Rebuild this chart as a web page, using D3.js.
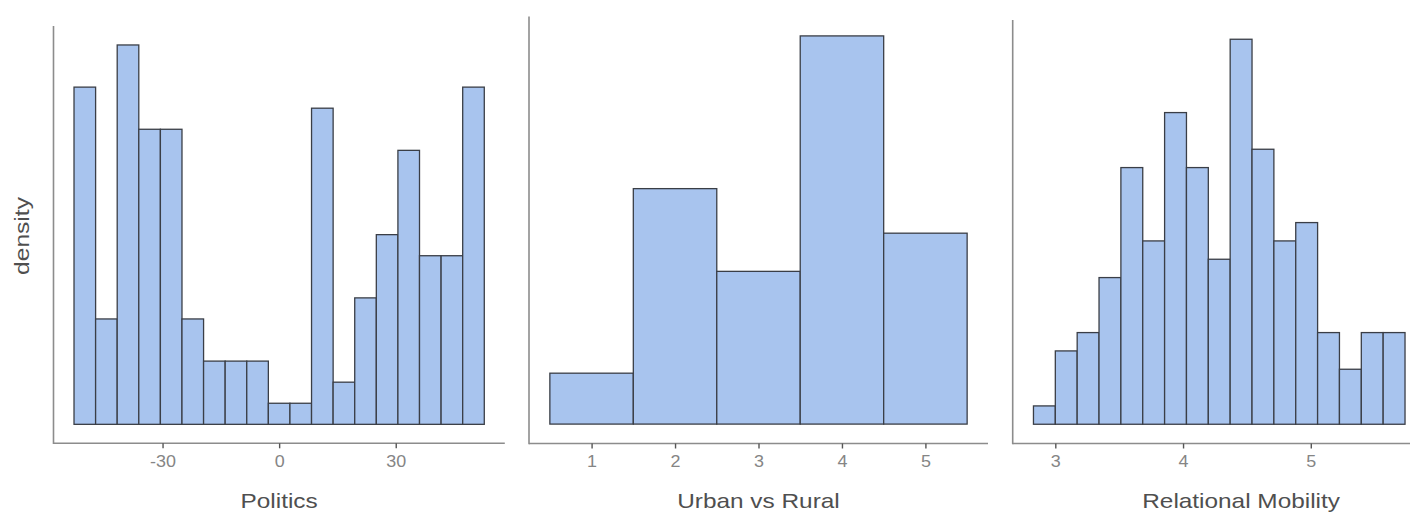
<!DOCTYPE html>
<html>
<head>
<meta charset="utf-8">
<script src="https://cdn.jsdelivr.net/npm/d3@7"></script>
<style>
  html, body { margin: 0; padding: 0; background: #fff; }
  svg { display: block; font-family: "Liberation Sans", Arial, sans-serif; }
</style>
</head>
<body>
<svg id="chart" width="1410" height="514"></svg>
<script>
// Histogram counts per bin (same sample of respondents in every panel)
const politicsCounts = [16, 5, 18, 14, 14, 5, 3, 3, 3, 1, 1, 15, 2, 6, 9, 13, 8, 8, 16];
const politicsBinStart = -52.78;
const politicsBinWidth = 5.556;
const politicsTicks = [-30, 0, 30];

const urbanCounts = [8, 37, 24, 61, 30];
const urbanBinStart = 0.5;
const urbanBinWidth = 1;
const urbanTicks = [1, 2, 3, 4, 5];

const mobilityCounts = [1, 4, 5, 8, 14, 10, 17, 14, 9, 21, 15, 10, 11, 5, 3, 5, 5, 0, 3];
const mobilityBinStart = 2.829;
const mobilityBinWidth = 0.1711;
const mobilityTicks = [3, 4, 5];

const panelTitles = ["Politics", "Urban vs Rural", "Relational Mobility"];

const svg = d3.select("#chart");
const FILL = "#a8c4ee", EDGE = "#3a3e46", AXIS = "#8c8c8c";
const TITLE_COL = "#4f4f4f", TICK_COL = "#858585";

// Widen glyphs a little, like the original renderer's text
function stretch(sel, k) {
  sel.each(function () {
    const w = this.getComputedTextLength();
    d3.select(this).attr("textLength", w * k).attr("lengthAdjust", "spacingAndGlyphs");
  });
}

function histogram(cfg) {
  const n = d3.sum(cfg.counts);
  const bins = cfg.counts.map((c, i) => ({
    x0: cfg.start + i * cfg.width,
    x1: cfg.start + (i + 1) * cfg.width,
    density: c / (n * cfg.width)
  }));
  const lo = bins[0].x0, hi = bins[bins.length - 1].x1;
  const xpad = 0.05 * (hi - lo);
  const x = d3.scaleLinear().domain([lo - xpad, hi + xpad]).range([cfg.left, cfg.right]);
  const dmax = d3.max(bins, d => d.density);
  const y = d3.scaleLinear().domain([-0.05 * dmax, 1.05 * dmax]).range([cfg.bottom, cfg.top]);

  const g = svg.append("g");

  g.selectAll("rect.bar").data(bins).join("rect")
    .attr("class", "bar")
    .attr("x", d => x(d.x0))
    .attr("width", d => x(d.x1) - x(d.x0))
    .attr("y", d => y(d.density))
    .attr("height", d => y(0) - y(d.density))
    .attr("fill", FILL)
    .attr("stroke", EDGE)
    .attr("stroke-width", 1.3);

  // x axis (plain hyphen for negatives)
  const xAxis = d3.axisBottom(x).tickValues(cfg.ticks).tickSize(5).tickPadding(7).tickFormat(d => String(d));
  const ax = g.append("g").attr("transform", `translate(0,${cfg.bottom})`).call(xAxis);
  ax.select(".domain").attr("stroke", AXIS).attr("stroke-width", 1.6)
    .attr("d", `M${cfg.left},0H${cfg.right}`);
  ax.selectAll(".tick line").attr("stroke", "#555").attr("stroke-width", 1.4);
  ax.selectAll(".tick text").attr("fill", TICK_COL).attr("font-size", 16)
    .attr("font-family", "'Liberation Sans', Arial, sans-serif").call(stretch, 1.12);

  // y axis line only
  g.append("line")
    .attr("x1", cfg.left).attr("x2", cfg.left)
    .attr("y1", cfg.bottom + 0.8).attr("y2", cfg.top)
    .attr("stroke", AXIS).attr("stroke-width", 1.6);

  g.append("text")
    .attr("x", (cfg.left + cfg.right) / 2)
    .attr("y", 508)
    .attr("text-anchor", "middle")
    .attr("font-size", 21)
    .attr("fill", TITLE_COL)
    .text(cfg.title)
    .call(stretch, 1.16);
}

histogram({ counts: politicsCounts, start: politicsBinStart, width: politicsBinWidth, ticks: politicsTicks,
  left: 53.5, right: 504.8, top: 26, bottom: 443.3, title: panelTitles[0] });
histogram({ counts: urbanCounts, start: urbanBinStart, width: urbanBinWidth, ticks: urbanTicks,
  left: 529, right: 988, top: 16.5, bottom: 443.5, title: panelTitles[1] });
histogram({ counts: mobilityCounts, start: mobilityBinStart, width: mobilityBinWidth, ticks: mobilityTicks,
  left: 1012.7, right: 1469.5, top: 20, bottom: 443.5, title: panelTitles[2] });

// shared y axis title
svg.append("text")
  .attr("transform", "translate(29,236) rotate(-90)")
  .attr("text-anchor", "middle")
  .attr("font-size", 21)
  .attr("fill", TITLE_COL)
  .text("density")
  .call(stretch, 1.17);
</script>
</body>
</html>
